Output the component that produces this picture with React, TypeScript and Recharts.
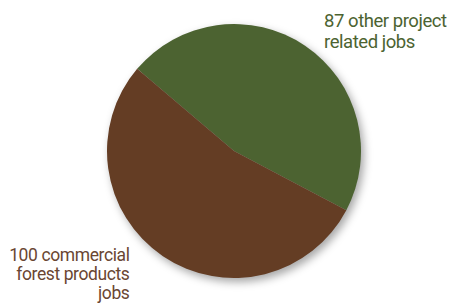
import React from "react";
import { PieChart, Pie, Cell } from "recharts";

const categories = ["87 other project related jobs", "100 commercial forest products jobs"];
const values = [87, 100];
const colors = ["#4c6331", "#643d24"];
const data = categories.map((name, i) => ({ name, value: values[i] }));

export default function App() {
  return (
    <div style={{ position: "absolute", left: 0, top: 0, width: 449, height: 306, background: "#fff" }}>
      <style>{`.recharts-pie { filter: drop-shadow(3px 4px 4px rgba(0,0,0,0.35)); }`}</style>
      <PieChart width={449} height={306} margin={{ top: 0, right: 0, bottom: 0, left: 0 }}>
        <Pie
          data={data}
          dataKey="value"
          nameKey="name"
          cx={234}
          cy={151}
          outerRadius={127}
          startAngle={139.7}
          endAngle={-220.3}
          stroke="none"
          isAnimationActive={false}
        >
          {data.map((d, i) => (
            <Cell key={d.name} fill={colors[i]} />
          ))}
        </Pie>
        <text x={324} y={26.7} fill="#4c6331" fontFamily="Roboto" fontSize={18.5} letterSpacing={-0.45}>
          <tspan x={324} dy={0}>87 other project</tspan>
          <tspan x={324} dy={21}>related jobs</tspan>
        </text>
        <text x={129.5} y={260.7} fill="#6a4632" fontFamily="Roboto" fontSize={17.5} letterSpacing={-0.4} textAnchor="end">
          <tspan x={129.5} dy={0}>100 commercial</tspan>
          <tspan x={129.5} dy={19.3}>forest products</tspan>
          <tspan x={129.5} dy={19.3}>jobs</tspan>
        </text>
      </PieChart>
    </div>
  );
}
